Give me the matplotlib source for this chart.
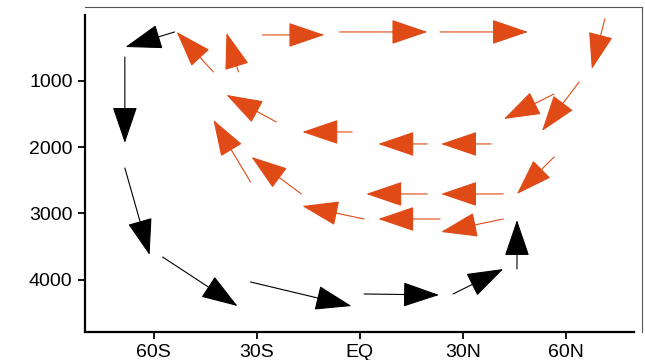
import numpy as np
import matplotlib
matplotlib.use("Agg")
import matplotlib.pyplot as plt
from matplotlib.patches import FancyArrowPatch

plt.rcParams['font.family'] = ['Liberation Sans', 'DejaVu Sans']

# 深層の循環 (黒) : 尾の位置と先端の位置 (緯度, 深さ m)
deep_lat0 = [-53.9, -68.4, -68.4, -57.4, -31.8, 1.3, 27.2, 45.8]
deep_dep0 = [260, 638, 2314, 3658, 4035, 4216, 4216, 3839]
deep_lat1 = [-68.2, -68.4, -61.2, -35.6, -2.4, 23.1, 41.8, 45.8]
deep_dep1 = [487, 1936, 3627, 4398, 4398, 4231, 3839, 3099]

# 上層の循環 (オレンジ)
upper_lat0 = [-42.6, -35.3, -28.3, -5.9, 23.4, 71.4, 63.9, 56.6, 56.6, -2.2,
              19.7, 38.3, -24.3, -31.8, -17.0, 1.3, 19.7, 41.8, 23.4, 41.8]
upper_dep0 = [864, 864, 305, 260, 260, 64, 1015, 1196, 2148, 1770,
              1951, 1951, 1619, 2525, 2706, 3084, 2706, 2706, 3084, 3084]
upper_lat1 = [-53.3, -38.8, -10.3, 19.7, 49.0, 67.6, 53.1, 42.0, 45.8, -16.7,
              5.4, 23.7, -38.8, -42.6, -31.5, -16.7, 1.9, 23.7, 5.4, 23.7]
upper_dep1 = [260, 275, 305, 260, 260, 819, 1755, 1574, 2706, 1770,
              1951, 1951, 1211, 1589, 2148, 2888, 2706, 2706, 3084, 3280]

xticks = [-60, -30, 0, 30, 60]
xlabels = ["60S", "30S", "EQ", "30N", "60N"]
yticks = [1000, 2000, 3000, 4000]

orange = "#DF4A16"

fig = plt.figure(figsize=(6.45, 3.6), dpi=100)
ax = fig.add_axes([0.1318, 0.0778, 0.8635, 0.9028])


def draw_arrows(lat0, dep0, lat1, dep1, color):
    for a, b, c, d in zip(lat0, dep0, lat1, dep1):
        arr = FancyArrowPatch((a, b), (c, d),
                              arrowstyle="-|>,head_length=2.35,head_width=0.8",
                              mutation_scale=10, shrinkA=0, shrinkB=0,
                              lw=0.8, color=color)
        ax.add_patch(arr)


draw_arrows(deep_lat0, deep_dep0, deep_lat1, deep_dep1, "black")
draw_arrows(upper_lat0, upper_dep0, upper_lat1, upper_dep1, orange)

ax.set_xlim(-80, 82.2)
ax.set_ylim(4790, -117)

ax.set_xticks(xticks)
ax.set_xticklabels(xlabels)
ax.set_yticks(yticks)
ax.tick_params(axis='both', direction='out', length=5, width=1.3,
               labelsize=14, pad=4)

ax.spines['left'].set_linewidth(1.6)
ax.spines['bottom'].set_linewidth(1.6)
ax.spines['left'].set_bounds(0, 4790)
ax.spines['bottom'].set_bounds(-80, 80)
ax.spines['top'].set_linewidth(0.8)
ax.spines['right'].set_linewidth(0.8)
ax.spines['top'].set_color("#555555")
ax.spines['right'].set_color("#555555")

fig.savefig("out.png", dpi=100)
